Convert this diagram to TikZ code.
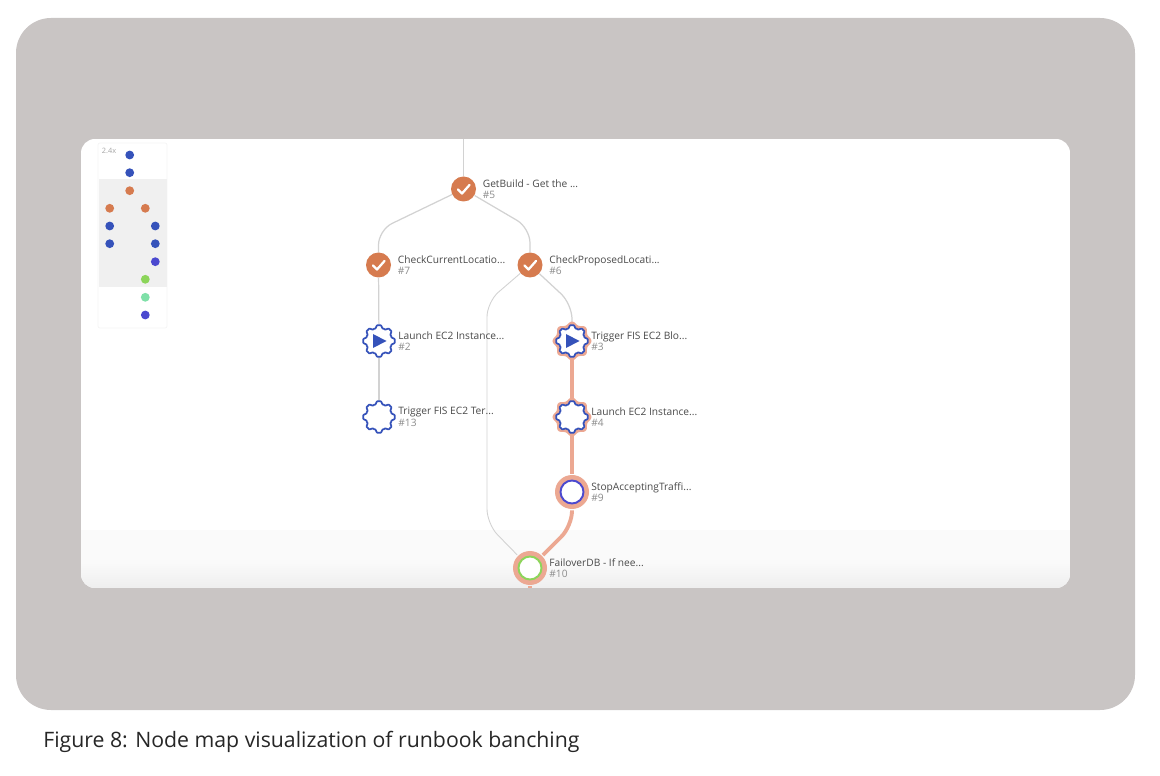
\documentclass[tikz,border=0pt]{standalone}
\usepackage{fontspec}
\setmainfont{Open Sans}
\usetikzlibrary{positioning}
\definecolor{panelgrey}{HTML}{C9C5C4}
\definecolor{stepblue}{HTML}{3552BA}
\definecolor{steporange}{HTML}{D67B4F}
\definecolor{stepindigo}{HTML}{4B49CF}
\definecolor{stepgreen}{HTML}{8CD55A}
\definecolor{stepmint}{HTML}{7FE0A8}
\definecolor{halo}{HTML}{ECA892}
\definecolor{edgegrey}{HTML}{D2D2D2}
\definecolor{titlegrey}{HTML}{4A4A4A}
\definecolor{numgrey}{HTML}{8C8C8C}
\tikzset{
	stepnode/.style={circle,inner sep=0pt,minimum size=0.5cm},
	donestep/.style={stepnode,fill=steporange},
	gearstep/.style={stepnode,minimum size=0.64cm},
	halostep/.style={stepnode,minimum size=0.72cm},
	ringstep/.style={stepnode,fill=white,line width=1.1pt,minimum size=0.46cm},
	steptext/.style={anchor=west,xshift=0.38cm,inner sep=0pt,align=left,font=\fontsize{5.8}{6.6}\selectfont,text=titlegrey},
	edgeline/.style={draw=edgegrey,line width=0.7pt,rounded corners=0.3cm},
	hotline/.style={draw=halo,line width=2.2pt,rounded corners=0.3cm},
	gearline/.pic={\draw[stepblue,fill=white,line width=1pt] plot[domain=0:360,samples=241,smooth] ({(14.4+1.6*(cos(8*\x)-0.2*cos(24*\x)))*cos(\x)},{(14.4+1.6*(cos(8*\x)-0.2*cos(24*\x)))*sin(\x)}) -- cycle;},
	gearhalo/.pic={\fill[halo] plot[domain=0:360,samples=241,smooth] ({(18+1.4*cos(8*\x))*cos(\x)},{(18+1.4*cos(8*\x))*sin(\x)}) -- cycle;},
	playmark/.pic={\fill[stepblue] (-6,-7) -- (7.5,0) -- (-6,7) -- cycle;},
	checkmark/.pic={\draw[white,line width=1.3pt,line cap=round,line join=round] (-5.5,0.5) -- (-1.5,4.5) -- (6,-4);}
}
\newcommand{\steptitle}[2]{#1\\{\color{numgrey}\##2}}
\begin{document}
\begin{tikzpicture}[x=0.02cm,y=-0.02cm,line join=round]
	\useasboundingbox (0,0) rectangle (1160,776);
	\fill[panelgrey,rounded corners=0.7cm] (16,18) rectangle (1135,710);
	\begin{scope}
		\clip[rounded corners=0.28cm] (81,139) rectangle (1070,588);
		\fill[white] (81,139) rectangle (1070,588);
		\fill[black!2] (81,530) rectangle (1070,565);
		\shade[top color=black!2.5,bottom color=black!6.5] (81,565) rectangle (1070,588);
	\end{scope}
	
	% minimap
	\draw[black!4,fill=white,rounded corners=0.04cm] (98,143) rectangle (167,328);
	\fill[black!6] (99,179) rectangle (167,287);
	\node[text=black!35,inner sep=0pt,font=\fontsize{4.2}{5}\selectfont] (zoomtext) at (109,151) {2.4x};
	\foreach \x/\y/\c in {129.7/155/stepblue,129.7/172.7/stepblue,129.7/190.7/steporange,109.7/208.3/steporange,145.3/208.3/steporange,109.7/226/stepblue,155.3/226/stepblue,109.7/243.7/stepblue,155.3/243.7/stepblue,155.3/261.7/stepindigo,145.3/279.3/stepgreen,145.3/297.3/stepmint,145.3/315/stepindigo}
	\fill[\c] (\x,\y) circle(4.4);
	
	% steps
	\node[donestep] (n5) at (463.5,189) {};
	\node[donestep] (n7) at (378.5,265) {};
	\node[donestep] (n6) at (530,265) {};
	\node[gearstep] (n2) at (379,341) {};
	\node[gearstep] (n13) at (379,417) {};
	\node[halostep] (n3) at (572,341) {};
	\node[halostep] (n4) at (572,417) {};
	\node[halostep] (n9) at (572,492) {};
	\node[halostep] (n10) at (530,568) {};
	
	\coordinate (top5) at (463.5,139);
	\coordinate (c7) at (378.5,230);
	\coordinate (c6) at (530,228);
	\coordinate (c3) at (572,304);
	\coordinate (cl) at (487,302);
	\coordinate (cb) at (487,524);
	\coordinate (c9) at (572,526);
	\coordinate (end10) at (530,588);
	
	% connectors
	\draw[edgeline] (top5) -- (n5);
	\draw[edgeline] (n5) -- (c7) -- (n7);
	\draw[edgeline] (n5) -- (c6) -- (n6);
	\draw[edgeline] (n7) -- (n2);
	\draw[edgeline] (n2) -- (n13);
	\draw[edgeline] (n6) -- (c3) -- (n3);
	\draw[edgeline,line width=0.5pt] (n6) -- (cl) -- (cb) -- (n10);
	\draw[hotline] (n3) -- (n4);
	\draw[hotline] (n4) -- (n9);
	\draw[hotline] (n9) -- (c9) -- (n10);
	\draw[hotline] (n10) -- (end10);
	
	% marks inside the steps
	\foreach \n in {n5,n7,n6}
	\pic at (\n) {checkmark};
	\foreach \n in {n3,n4}
	\pic at (\n) {gearhalo};
	\foreach \n in {n2,n13,n3,n4}
	\pic at (\n) {gearline};
	\foreach \n in {n2,n3}
	\pic at (\n) {playmark};
	\fill[halo] (n9) circle(17);
	\fill[halo] (n10) circle(17);
	\node[ringstep,draw=stepindigo] (ring9) at (n9) {};
	\node[ringstep,draw=stepgreen] (ring10) at (n10) {};
	
	% labels
	\node[steptext] (t5) at (n5) {\steptitle{GetBuild - Get the ...}{5}};
	\node[steptext] (t7) at (n7) {\steptitle{CheckCurrentLocatio...}{7}};
	\node[steptext] (t6) at (n6) {\steptitle{CheckProposedLocati...}{6}};
	\node[steptext] (t2) at (n2) {\steptitle{Launch EC2 Instance...}{2}};
	\node[steptext] (t3) at (n3) {\steptitle{Trigger FIS EC2 Blo...}{3}};
	\node[steptext] (t13) at (n13) {\steptitle{Trigger FIS EC2 Ter...}{13}};
	\node[steptext] (t4) at (n4) {\steptitle{Launch EC2 Instance...}{4}};
	\node[steptext] (t9) at (n9) {\steptitle{StopAcceptingTraffi...}{9}};
	\node[steptext] (t10) at (n10) {\steptitle{FailoverDB - If nee...}{10}};
	
	\node[anchor=west,inner sep=0pt,text=black!85,font=\fontsize{12.1}{14}\selectfont] (caption) at (43,741.5) {Figure 8: Node map visualization of runbook banching};
\end{tikzpicture}
\end{document}
